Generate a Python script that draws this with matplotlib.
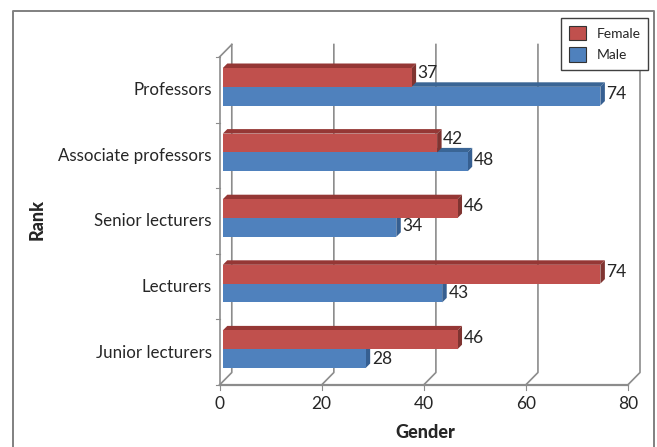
import matplotlib
matplotlib.use("Agg")
import matplotlib.pyplot as plt
from matplotlib.patches import Polygon, Rectangle
from matplotlib.lines import Line2D

plt.rcParams['font.family'] = ['Lato', 'DejaVu Sans']

categories = ["Junior lecturers", "Lecturers", "Senior lecturers", "Associate professors", "Professors"]
female = [46, 74, 46, 42, 37]
male = [28, 43, 34, 48, 74]
xticks = [0, 20, 40, 60, 80]

W, H = 657, 447
fig = plt.figure(figsize=(W / 100, H / 100), dpi=100)
L, R, T, B = 219.5, 627.7, 57.0, 385.0
ax = fig.add_axes([L / W, 1 - B / H, (R - L) / W, (B - T) / H])
ax.set_xlim(0, 80)
ax.set_ylim(-0.5, 4.5)
for s in ax.spines.values():
    s.set_visible(False)
ax.patch.set_alpha(0)

GRID = "#8c8c8c"
TXT = "#262626"
sx = (R - L) / 80
sy = (B - T) / 5
wx, wy = 12.3 / sx, 12.5 / sy      # depth of the 3-D box
ox, oy = 3.3 / sx, 3.0 / sy        # bar start inside the box
dx, dy = 4.5 / sx, 4.5 / sy        # bar depth
h = 18.8 / sy

# walls and floor
for v in xticks:
    ax.plot([v, v + wx, v + wx], [-0.5, -0.5 + wy, 4.5 + wy], color=GRID, lw=1.2, clip_on=False, zorder=1)
ax.plot([0, 0], [-0.5, 4.5], color=GRID, lw=1.2, clip_on=False, zorder=1)
ax.plot([0, wx], [4.5, 4.5 + wy], color=GRID, lw=1.2, clip_on=False, zorder=1)
ax.plot([0, 80], [-0.5, -0.5], color=GRID, lw=1.6, clip_on=False, zorder=1)
for i in range(6):
    ax.plot([-3.5 / sx, 0], [i - 0.5, i - 0.5], color=GRID, lw=0.8, clip_on=False, zorder=1)
for v in xticks:
    ax.plot([v, v], [-0.5, -0.5 - 5 / sy], color=GRID, lw=0.8, clip_on=False, zorder=1)


def bar3d(v, bottom, front, side, top, z):
    x0, y0 = ox, bottom + oy
    ax.add_patch(Polygon([(x0, y0 + h), (x0 + v, y0 + h), (x0 + v + dx, y0 + h + dy), (x0 + dx, y0 + h + dy)],
                         fc=top, ec="none", zorder=z, clip_on=False))
    ax.add_patch(Polygon([(x0 + v, y0), (x0 + v + dx, y0 + dy), (x0 + v + dx, y0 + h + dy), (x0 + v, y0 + h)],
                         fc=side, ec="none", zorder=z, clip_on=False))
    ax.add_patch(Rectangle((x0, y0), v, h, fc=front, ec="none", zorder=z + 0.1, clip_on=False))


for i, (f, m) in enumerate(zip(female, male)):
    z = 10 + 2 * (5 - i)
    bar3d(m, i - h, "#4f81bd", "#365f91", "#3a6595", z)
    bar3d(f, i, "#c0504d", "#7f3431", "#953735", z + 1)
    drift = 0.5 * i / sy
    ax.text(ox + f + dx + 1.6 / sx, i + oy + h / 2 + 2 / sy + drift, str(f), ha="left", va="center",
            fontsize=12.5, color=TXT, zorder=40)
    ax.text(ox + m + dx + 1.6 / sx, i + oy - h / 2 + drift, str(m), ha="left", va="center",
            fontsize=12.5, color=TXT, zorder=40)

ax.set_yticks([i + 1 / sy for i in range(5)])
ax.set_yticklabels(categories, fontsize=12.2, color=TXT)
ax.set_xticks(xticks)
ax.set_xticklabels([str(v) for v in xticks], fontsize=12.5, color=TXT)
ax.tick_params(length=0)
ax.tick_params(axis="y", pad=5.5)
ax.tick_params(axis="x", pad=8)
fig.text(425 / W, 1 - 432.5 / H, "Gender", ha="center", va="center", fontsize=13, fontweight="black", color=TXT)
fig.text(37 / W, 1 - 219 / H, "Rank", ha="center", va="center", rotation=90, fontsize=13, fontweight="black", color=TXT)

# chart frame (open at the bottom)
fig.add_artist(Line2D([12.5 / W, 12.5 / W, 653.5 / W, 653.5 / W], [0, 1 - 11 / H, 1 - 11 / H, 0], color="#808080", lw=1.4))

# legend
handles = [Rectangle((0, 0), 1, 1, fc="#c0504d", ec="#333333", lw=0.8),
           Rectangle((0, 0), 1, 1, fc="#4f81bd", ec="#333333", lw=0.8)]
leg = fig.legend(handles, ["Female", "Male"], loc="upper left",
                 bbox_to_anchor=(561 / W, 1 - 18 / H), borderaxespad=0, fontsize=10,
                 handlelength=1.25, handleheight=1.25, handletextpad=0.75, labelspacing=0.5,
                 borderpad=0.55, fancybox=False, framealpha=1, edgecolor="#404040", labelcolor=TXT)
leg.get_frame().set_linewidth(1.0)
leg.set_zorder(50)

fig.savefig("out.png", dpi=100, facecolor="white")
